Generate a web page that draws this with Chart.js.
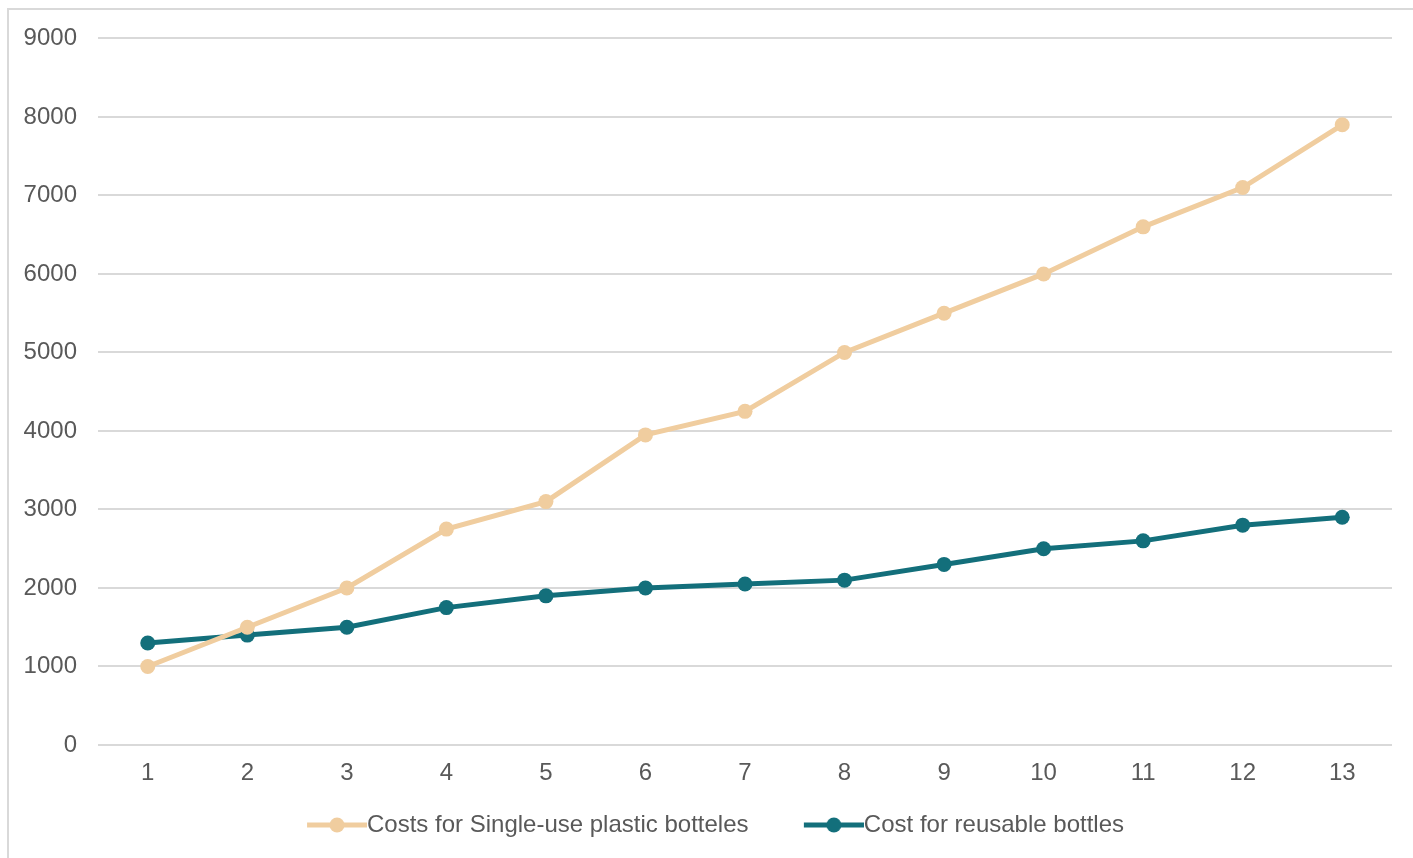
<!DOCTYPE html>
<html>
<head>
<meta charset="utf-8">
<script src="https://cdn.jsdelivr.net/npm/chart.js@4/dist/chart.umd.min.js"></script>
<style>
  html, body { margin: 0; padding: 0; background: #fff; overflow: hidden; }
  #frame {
    position: absolute; left: 7px; top: 8px;
    width: 1420px; height: 860px;
    border-left: 2px solid #d9d9d9; border-top: 2px solid #d9d9d9;
  }
  #wrap { position: absolute; left: 0; top: -7px; width: 1404px; height: 855px; }
</style>
</head>
<body>
<div id="frame"><div id="wrap"><canvas id="chart"></canvas></div></div>
<script>
// data
const years = ['1', '2', '3', '4', '5', '6', '7', '8', '9', '10', '11', '12', '13'];
const singleUse = [1000, 1500, 2000, 2750, 3100, 3950, 4250, 5000, 5500, 6000, 6600, 7100, 7900];
const reusable = [1300, 1400, 1500, 1750, 1900, 2000, 2050, 2100, 2300, 2500, 2600, 2800, 2900];
const seriesNames = ['Costs for Single-use plastic botteles', 'Cost for reusable bottles'];

const SAND = '#F0CD9F';
const TEAL = '#136F7B';
const TEXT = '#595959';
const GRID = '#d9d9d9';
const FONT = 'Liberation Sans, Arial, sans-serif';

// legend marker: line with a dot, text sits right at the line end
function legendMarker(color) {
    const c = document.createElement('canvas');
    c.width = 72; c.height = 16;
    const g = c.getContext('2d');
    g.strokeStyle = color;
    g.lineWidth = 5;
    g.beginPath();
    g.moveTo(12, 8); g.lineTo(72, 8);
    g.stroke();
    g.fillStyle = color;
    g.beginPath();
    g.arc(42, 8, 7.5, 0, Math.PI * 2);
    g.fill();
    return c;
}

// nudge legend a bit to the right, like the original
const legendShift = {
    id: 'legendShift',
    afterLayout(chart) {
        chart.legend.left += 15;
        chart.legend.right += 15;
    }
};

const ctx = document.getElementById('chart');
new Chart(ctx, {
    type: 'line',
    data: {
        labels: years,
        datasets: [{
            label: seriesNames[0],
            data: singleUse,
            borderColor: SAND,
            backgroundColor: SAND,
            borderWidth: 5,
            pointRadius: 7.5,
            pointHoverRadius: 7.5,
            pointBorderWidth: 0,
            tension: 0
        }, {
            label: seriesNames[1],
            data: reusable,
            borderColor: TEAL,
            backgroundColor: TEAL,
            borderWidth: 5,
            pointRadius: 7.5,
            pointHoverRadius: 7.5,
            pointBorderWidth: 0,
            tension: 0
        }]
    },
    plugins: [legendShift],
    options: {
        responsive: true,
        maintainAspectRatio: false,
        animation: false,
        layout: { padding: { top: 15, right: 21, left: 0, bottom: 11 } },
        plugins: {
            tooltip: { enabled: false },
            legend: {
                position: 'bottom',
                labels: {
                    color: TEXT,
                    font: { family: FONT, size: 24 },
                    usePointStyle: true,
                    pointStyleWidth: 48,
                    padding: 22,
                    generateLabels: chart => chart.data.datasets.map((ds, i) => ({
                        // trailing spaces widen the gap between the two items
                        text: i === 0 ? ds.label + '     ' : ds.label,
                        fontColor: TEXT,
                        pointStyle: legendMarker(ds.borderColor),
                        lineWidth: 0,
                        strokeStyle: 'transparent',
                        fillStyle: 'transparent',
                        datasetIndex: i,
                        hidden: false
                    }))
                }
            }
        },
        scales: {
            x: {
                offset: true,
                afterFit: scale => { scale.height = 46; },
                grid: { display: false },
                border: { display: false },
                ticks: {
                    color: TEXT,
                    padding: 6,
                    font: { family: FONT, size: 24 }
                }
            },
            y: {
                min: 0,
                max: 9000,
                afterFit: scale => { scale.width = 89; },
                grid: { color: GRID, lineWidth: 2, drawTicks: false },
                border: { display: false },
                ticks: {
                    stepSize: 1000,
                    color: TEXT,
                    padding: 21,
                    font: { family: FONT, size: 24 },
                    callback: v => String(v)
                }
            }
        }
    }
});
</script>
</body>
</html>
